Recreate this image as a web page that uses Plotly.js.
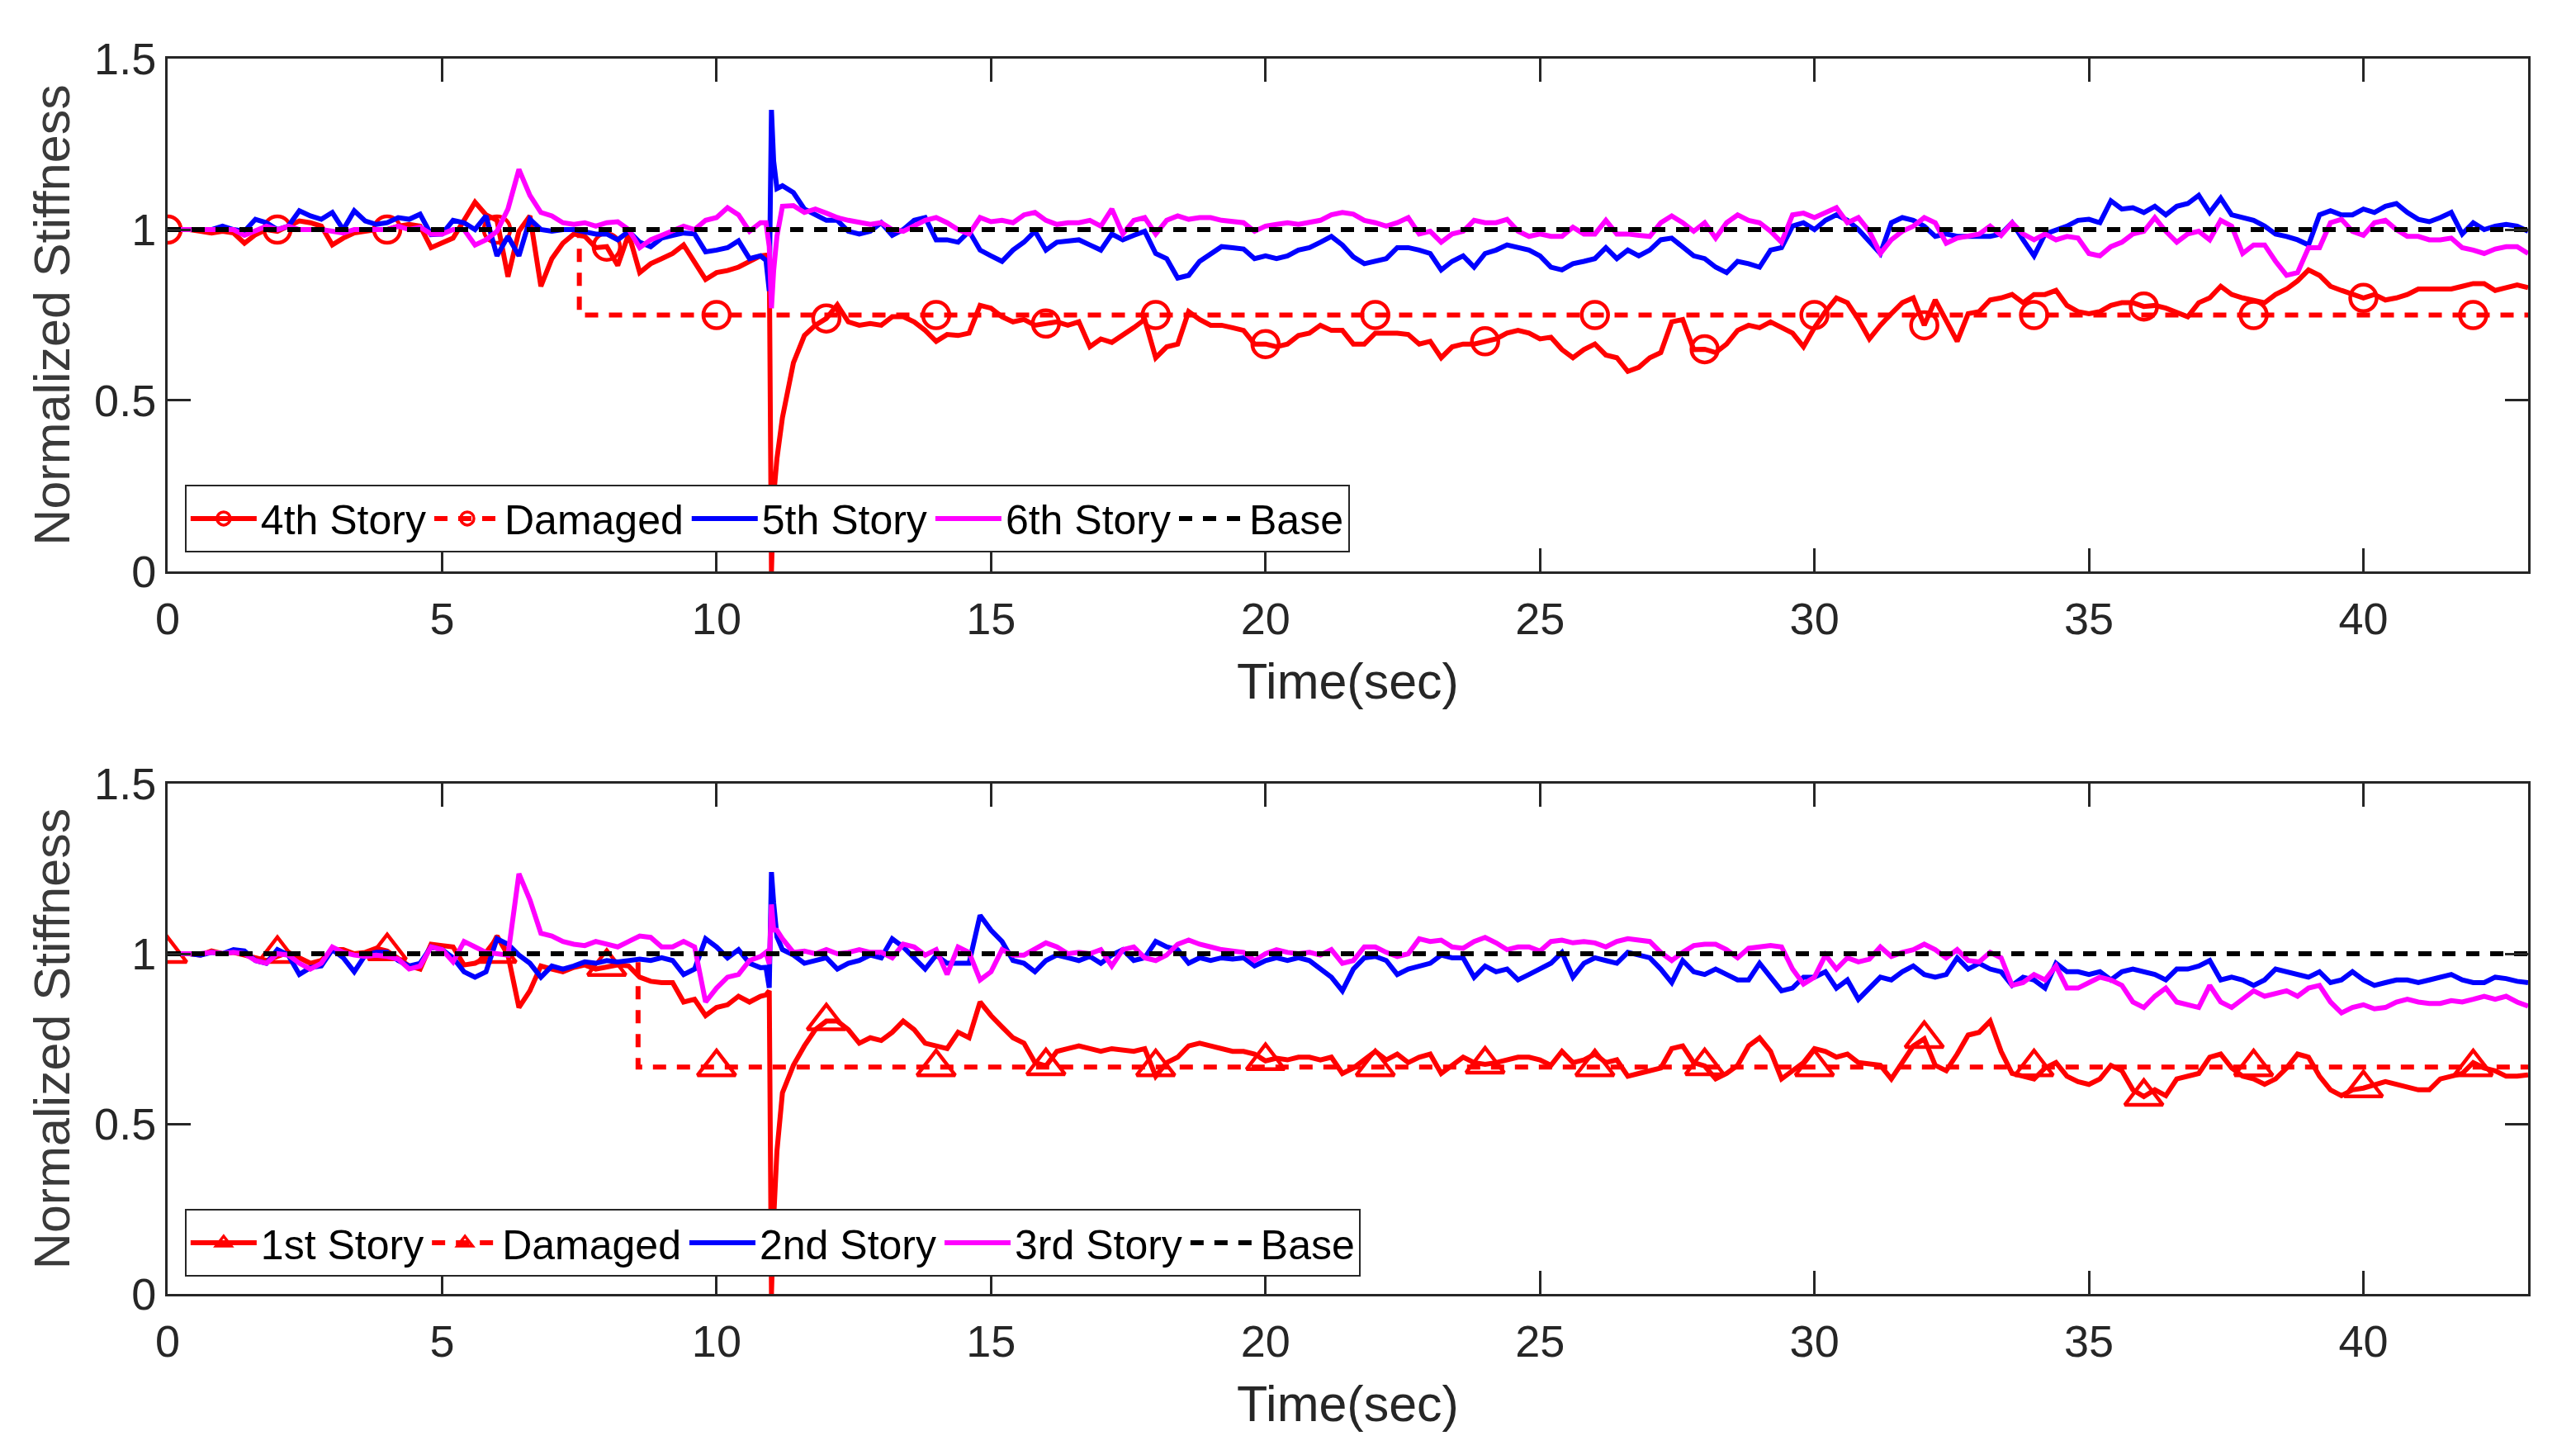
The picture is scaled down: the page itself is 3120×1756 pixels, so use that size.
<!DOCTYPE html>
<html>
<head>
<meta charset="utf-8">
<script src="https://cdn.plot.ly/plotly-3.0.1.min.js"></script>
<style>html,body{margin:0;padding:0;background:#fff}</style>
</head>
<body>
<div id="chart" style="width:3120px;height:1756px"></div>
<script>
// sampling grid: every 0.2 s, plus a few extra samples around the 11 s spike
function grid(a, b) {
  var out = [];
  for (var i = Math.round(a * 5); i <= Math.round(b * 5); i++) out.push(i / 5);
  return out;
}
var spikeTimes = [10.9, 10.96, 11.0, 11.04, 11.1];
var time = grid(0, 10.8).concat(spikeTimes, grid(11.2, 43));

// ---- upper panel ----
var story4 = [
  1.0,1.0,1.0,0.995,0.99, 0.995,0.99,0.96,0.985,1.0, 0.995,1.01,1.025,1.02,1.01,
  0.955,0.975,0.99,0.995,1.0, 1.0,1.01,1.015,1.01,0.947, 0.963,0.975,1.027,1.08,1.043,
  1.027,0.862,0.995,1.04,0.834, 0.915,0.96,0.987,0.98,0.947, 0.95,0.895,0.987,0.874,0.9,
  0.915,0.93,0.955,0.907,0.854, 0.874,0.88,0.89,0.907,0.923,
  0.925,0.92,0.0,0.22,0.33,
  0.45,0.61,0.69,0.72,
  0.74,0.78,0.73,0.72,0.725, 0.72,0.745,0.745,0.73,0.705, 0.673,0.693,0.69,0.697,0.778,
  0.77,0.745,0.73,0.737,0.72, 0.725,0.73,0.72,0.73,0.657, 0.68,0.67,0.69,0.713,0.737,
  0.625,0.657,0.665,0.76,0.737, 0.72,0.72,0.713,0.705,0.665, 0.665,0.657,0.665,0.69,0.697,
  0.72,0.705,0.705,0.665,0.665, 0.697,0.697,0.697,0.693,0.665, 0.673,0.625,0.657,0.665,0.665,
  0.673,0.68,0.697,0.705,0.697, 0.68,0.685,0.649,0.625,0.649, 0.665,0.633,0.625,0.585,0.597,
  0.625,0.64,0.73,0.737,0.649, 0.65,0.64,0.665,0.705,0.72, 0.713,0.73,0.713,0.697,0.657,
  0.713,0.76,0.8,0.786,0.737, 0.68,0.72,0.754,0.786,0.8, 0.72,0.794,0.737,0.673,0.754,
  0.76,0.794,0.8,0.81,0.786, 0.81,0.81,0.822,0.778,0.76, 0.754,0.76,0.778,0.786,0.786,
  0.775,0.778,0.77,0.758,0.745, 0.786,0.8,0.834,0.81,0.8, 0.794,0.786,0.81,0.826,0.85,
  0.882,0.866,0.834,0.822,0.81, 0.8,0.81,0.794,0.8,0.81, 0.826,0.826,0.826,0.826,0.834,
  0.842,0.842,0.822,0.83,0.838, 0.83
];
var story5 = [
  1.0,1.0,1.0,1.0,1.0, 1.01,1.0,0.995,1.03,1.02, 1.0,1.01,1.055,1.04,1.03,
  1.05,1.0,1.055,1.025,1.015, 1.02,1.035,1.03,1.045,0.985, 0.987,1.027,1.02,1.0,1.04,
  0.923,0.98,0.923,1.03,1.0, 0.995,1.0,1.0,0.995,0.987, 0.987,0.97,0.995,0.963,0.95,
  0.975,0.983,0.99,0.987,0.935, 0.94,0.947,0.967,0.915,0.923,
  0.91,0.82,1.35,1.2,1.12,
  1.128,1.108,1.06,1.043,
  1.027,1.027,0.995,0.987,0.995, 1.02,0.983,1.0,1.027,1.035, 0.97,0.97,0.963,0.995,0.94,
  0.923,0.907,0.94,0.963,0.995, 0.94,0.963,0.967,0.97,0.955, 0.94,0.987,0.97,0.983,0.995,
  0.93,0.915,0.858,0.866,0.907, 0.93,0.95,0.947,0.943,0.915, 0.923,0.915,0.923,0.94,0.947,
  0.963,0.98,0.955,0.92,0.9, 0.907,0.915,0.947,0.947,0.94, 0.93,0.882,0.907,0.923,0.89,
  0.93,0.94,0.955,0.947,0.94, 0.923,0.89,0.882,0.9,0.907, 0.915,0.947,0.915,0.94,0.923,
  0.94,0.97,0.975,0.947,0.923, 0.915,0.89,0.874,0.907,0.9, 0.89,0.94,0.947,1.01,1.02,
  1.0,1.027,1.043,1.027,1.0, 0.963,0.93,1.02,1.035,1.027, 1.01,0.98,0.987,0.98,0.98,
  0.983,0.98,0.987,1.02,0.97, 0.923,0.987,1.0,1.01,1.027, 1.03,1.02,1.084,1.06,1.064,
  1.05,1.068,1.043,1.068,1.076, 1.1,1.05,1.092,1.043,1.035, 1.027,1.01,0.987,0.98,0.97,
  0.955,1.043,1.055,1.043,1.043, 1.06,1.05,1.068,1.076,1.05, 1.03,1.023,1.035,1.05,0.987,
  1.02,1.0,1.01,1.015,1.01, 0.995
];
var story6 = [
  1.0,1.0,1.0,1.0,1.0, 1.0,1.0,0.983,0.995,1.01, 1.0,1.01,1.0,1.0,1.0,
  0.995,0.99,1.0,1.0,1.0, 1.0,1.01,1.0,1.007,0.987, 0.987,1.0,1.0,0.955,0.97,
  0.995,1.06,1.176,1.1,1.05, 1.04,1.02,1.015,1.02,1.01, 1.02,1.023,1.0,0.947,0.97,
  0.983,0.995,1.01,1.0,1.027, 1.035,1.064,1.043,0.995,1.02,
  1.02,0.95,0.77,0.88,0.98,
  1.068,1.07,1.05,1.06,
  1.048,1.035,1.027,1.02,1.015, 1.02,1.0,0.995,1.01,1.027, 1.035,1.02,1.0,0.987,1.035,
  1.023,1.027,1.02,1.043,1.05, 1.027,1.015,1.02,1.02,1.027, 1.01,1.06,0.987,1.027,1.035,
  0.987,1.027,1.04,1.03,1.035, 1.035,1.027,1.023,1.02,0.995, 1.01,1.015,1.02,1.015,1.02,
  1.027,1.043,1.05,1.045,1.027, 1.02,1.01,1.02,1.035,0.987, 0.995,0.963,0.987,0.995,1.027,
  1.02,1.02,1.03,0.995,0.98, 0.987,0.98,0.98,1.007,0.987, 0.987,1.027,0.987,0.987,0.983,
  0.98,1.02,1.04,1.02,0.995, 1.02,0.975,1.02,1.043,1.027, 1.02,0.995,0.963,1.043,1.048,
  1.035,1.05,1.064,1.02,1.035, 0.995,0.93,0.97,0.995,1.01, 1.035,1.02,0.96,0.975,0.98,
  0.987,1.01,0.983,1.02,0.987, 0.97,0.987,0.97,0.98,0.975, 0.93,0.923,0.95,0.963,0.987,
  0.995,1.035,0.995,0.963,0.987, 0.995,0.97,1.027,1.01,0.93, 0.955,0.955,0.907,0.866,0.874,
  0.947,0.947,1.02,1.03,0.995, 0.983,1.02,1.027,1.0,0.98, 0.98,0.97,0.97,0.975,0.947,
  0.94,0.93,0.943,0.95,0.95, 0.93
];
var damagedTopT = [0, 7.5, 7.5, 43];
var damagedTopK = [1, 1, 0.75, 0.75];

// ---- lower panel ----
var story1 = [
  1.0,1.0,1.0,0.996,1.008, 1.0,1.004,0.996,0.988,0.98, 0.992,1.004,0.988,0.972,0.98,
  1.012,1.012,1.0,1.004,1.016, 1.008,0.988,0.964,0.955,1.028, 1.024,1.02,0.967,0.972,0.988,
  1.052,0.996,0.842,0.891,0.964, 0.955,0.947,0.96,0.967,0.955, 0.962,0.967,0.964,0.931,0.919,
  0.915,0.915,0.858,0.866,0.818, 0.842,0.85,0.875,0.858,0.875,
  0.879,0.891,0.0,0.22,0.42,
  0.591,0.672,0.729,0.777,
  0.802,0.802,0.777,0.737,0.753, 0.745,0.769,0.802,0.777,0.737, 0.729,0.721,0.769,0.753,0.858,
  0.818,0.785,0.753,0.737,0.68, 0.67,0.713,0.721,0.729,0.721, 0.713,0.721,0.717,0.713,0.721,
  0.64,0.68,0.696,0.729,0.737, 0.729,0.721,0.713,0.713,0.705, 0.685,0.693,0.688,0.696,0.696,
  0.688,0.696,0.648,0.664,0.688, 0.713,0.688,0.705,0.68,0.696, 0.705,0.648,0.672,0.696,0.68,
  0.675,0.68,0.688,0.696,0.696, 0.688,0.672,0.713,0.68,0.688, 0.705,0.68,0.688,0.64,0.648,
  0.656,0.664,0.721,0.729,0.68, 0.67,0.632,0.648,0.672,0.729, 0.753,0.713,0.632,0.656,0.68,
  0.721,0.713,0.696,0.705,0.68, 0.676,0.672,0.632,0.68,0.729, 0.75,0.672,0.656,0.705,0.761,
  0.769,0.802,0.713,0.648,0.64, 0.632,0.664,0.68,0.64,0.624, 0.616,0.632,0.672,0.656,0.6,
  0.58,0.6,0.583,0.632,0.64, 0.648,0.696,0.705,0.664,0.64, 0.632,0.616,0.632,0.664,0.705,
  0.696,0.64,0.6,0.583,0.6, 0.605,0.616,0.624,0.616,0.608, 0.6,0.6,0.632,0.64,0.648,
  0.68,0.664,0.656,0.64,0.64, 0.644
];
var story2 = [
  1.0,1.0,1.0,0.996,1.004, 1.0,1.012,1.008,0.98,0.972, 1.012,0.996,0.939,0.959,0.964,
  1.012,0.988,0.947,0.996,1.004, 1.004,0.98,0.964,0.972,1.02, 1.012,0.988,0.947,0.931,0.947,
  1.044,1.028,0.996,0.972,0.931, 0.964,0.955,0.964,0.976,0.972, 0.98,0.976,0.98,0.984,0.98,
  0.988,0.98,0.939,0.955,1.044, 1.02,0.988,1.012,0.972,0.959,
  0.96,0.9,1.24,1.15,1.05,
  1.012,0.996,0.972,0.98,
  0.988,0.955,0.972,0.98,0.996, 0.988,1.044,1.02,0.988,0.955, 0.996,0.972,0.972,0.972,1.113,
  1.069,1.036,0.98,0.972,0.947, 0.98,0.996,0.988,0.98,0.992, 0.972,0.996,1.012,0.98,0.988,
  1.036,1.02,1.012,0.972,0.988, 0.98,0.988,0.984,0.988,0.964, 0.98,0.988,0.98,0.988,0.98,
  0.955,0.931,0.891,0.955,0.988, 0.992,0.98,0.939,0.955,0.964, 0.972,0.996,0.988,0.988,0.931,
  0.964,0.947,0.955,0.923,0.939, 0.955,0.972,1.004,0.931,0.972, 0.988,0.98,0.972,1.004,0.996,
  0.988,0.955,0.915,0.98,0.947, 0.939,0.955,0.939,0.923,0.923, 0.972,0.931,0.891,0.899,0.931,
  0.931,0.947,0.899,0.923,0.866, 0.899,0.931,0.923,0.947,0.964, 0.939,0.931,0.939,0.988,0.955,
  0.972,0.955,0.947,0.907,0.931, 0.923,0.899,0.972,0.947,0.947, 0.939,0.947,0.923,0.947,0.955,
  0.947,0.939,0.923,0.955,0.955, 0.964,0.98,0.923,0.931,0.923, 0.907,0.923,0.955,0.947,0.939,
  0.931,0.947,0.915,0.923,0.947, 0.923,0.907,0.915,0.923,0.923, 0.915,0.923,0.931,0.939,0.923,
  0.915,0.915,0.931,0.927,0.919, 0.915
];
var story3 = [
  1.0,1.0,1.0,1.0,1.004, 1.0,1.004,1.0,0.98,0.972, 1.0,0.996,0.972,0.955,0.972,
  1.02,1.004,0.996,0.992,0.996, 0.992,0.984,0.955,0.964,1.02, 1.012,0.976,1.036,1.02,1.004,
  1.0,0.996,1.235,1.158,1.06, 1.052,1.036,1.028,1.024,1.036, 1.028,1.02,1.036,1.052,1.048,
  1.02,1.02,1.036,1.02,0.858, 0.899,0.931,0.939,0.98,0.992,
  1.004,0.97,1.145,1.07,1.069,
  1.044,1.004,1.008,1.0,
  1.012,1.0,1.004,1.012,1.004, 1.004,0.988,1.028,1.02,0.996, 1.012,0.939,1.02,1.004,0.923,
  0.947,1.012,0.996,0.996,1.012, 1.032,1.02,1.0,1.004,1.0, 1.012,0.964,1.012,1.02,0.988,
  0.98,0.996,1.028,1.04,1.028, 1.02,1.012,1.008,1.004,0.98, 1.0,1.012,1.004,1.0,1.004,
  0.996,1.012,0.972,0.98,1.02, 1.02,1.004,0.992,1.0,1.044, 1.036,1.04,1.02,1.016,1.036,
  1.048,1.032,1.012,1.02,1.02, 1.008,1.036,1.04,1.032,1.036, 1.032,1.02,1.036,1.044,1.04,
  1.036,1.004,0.98,1.004,1.024, 1.028,1.028,1.012,0.988,1.016, 1.02,1.024,1.02,0.955,0.911,
  0.931,0.996,0.955,0.988,0.976, 0.984,1.02,0.992,1.004,1.012, 1.028,1.012,0.988,1.012,0.98,
  0.976,1.004,0.988,0.907,0.915, 0.939,0.923,0.964,0.899,0.899, 0.915,0.931,0.923,0.907,0.858,
  0.842,0.875,0.899,0.858,0.85, 0.842,0.907,0.858,0.842,0.866, 0.891,0.875,0.883,0.891,0.875,
  0.899,0.907,0.858,0.826,0.842, 0.85,0.838,0.842,0.858,0.866, 0.858,0.854,0.854,0.862,0.858,
  0.866,0.875,0.866,0.875,0.858, 0.846
];
var damagedLowT = [0, 8.57, 8.57, 43];
var damagedLowK = [1, 1, 0.667, 0.667];

var baseT = [0, 43];
var baseK = [1, 1];
var storyMarkTimes = [0, 4, 8, 12, 16, 20, 24, 28, 32, 36, 40];
var damagedMarkTimes = [2, 6, 10, 14, 18, 22, 26, 30, 34, 38, 42];

var topNames = ['4th Story', 'Damaged', '5th Story', '6th Story', 'Base'];
var lowNames = ['1st Story', 'Damaged', '2nd Story', '3rd Story', 'Base'];

function valueAt(series, t) {
  for (var i = 0; i < time.length; i++) if (Math.abs(time[i] - t) < 1e-6) return series[i];
  return null;
}
function stepAt(tt, kk, t) {
  for (var i = tt.length - 1; i >= 0; i--) if (tt[i] <= t) return kk[i];
  return kk[0];
}

var RED = '#ff0000', BLUE = '#0000ff', MAG = '#ff00ff';
var LW = 6;
var DASH = '16px,13px';

function panel(xa, ya, leg, names, red, dT, dK, blue, mag, symbol, msize) {
  var mk = {symbol: symbol, size: msize, color: RED, line: {color: RED, width: 4.5}};
  var legMk = {symbol: symbol, size: 16, color: RED, line: {color: RED, width: 3.5}};
  var common = {xaxis: xa, yaxis: ya, legend: leg, hoverinfo: 'skip'};
  var tr = [];
  tr.push(Object.assign({x: time, y: red, mode: 'lines', line: {color: RED, width: LW}, showlegend: false}, common));
  tr.push(Object.assign({x: storyMarkTimes, y: storyMarkTimes.map(function (t) { return valueAt(red, t); }),
    mode: 'markers', marker: mk, showlegend: false}, common));
  tr.push(Object.assign({x: [null], y: [null], mode: 'lines+markers', name: names[0], legendrank: 1,
    line: {color: RED, width: LW}, marker: legMk}, common));
  tr.push(Object.assign({x: dT, y: dK, mode: 'lines', line: {color: RED, width: LW, dash: DASH}, showlegend: false}, common));
  tr.push(Object.assign({x: damagedMarkTimes, y: damagedMarkTimes.map(function (t) { return stepAt(dT, dK, t); }),
    mode: 'markers', marker: mk, showlegend: false}, common));
  tr.push(Object.assign({x: [null], y: [null], mode: 'lines+markers', name: names[1], legendrank: 2,
    line: {color: RED, width: LW, dash: DASH}, marker: legMk}, common));
  tr.push(Object.assign({x: time, y: blue, mode: 'lines', name: names[2], legendrank: 3,
    line: {color: BLUE, width: LW}}, common));
  tr.push(Object.assign({x: time, y: mag, mode: 'lines', name: names[3], legendrank: 4,
    line: {color: MAG, width: LW}}, common));
  tr.push(Object.assign({x: baseT, y: baseK, mode: 'lines', name: names[4], legendrank: 5,
    line: {color: '#000', width: 6, dash: DASH}}, common));
  return tr;
}

var data = panel('x', 'y', 'legend', topNames, story4, damagedTopT, damagedTopK, story5, story6, 'circle-open', 32)
  .concat(panel('x2', 'y2', 'legend2', lowNames, story1, damagedLowT, damagedLowK, story2, story3, 'triangle-up-open', 40));

var FONT = 'Liberation Sans, Arial, Helvetica, sans-serif';
var INK = '#262626';

function xAxis(anchor) {
  return {
    anchor: anchor, range: [0, 43], tickvals: [0, 5, 10, 15, 20, 25, 30, 35, 40],
    ticks: 'inside', ticklen: 28, tickwidth: 3, tickcolor: INK, ticklabelstandoff: 8,
    showline: true, linewidth: 3, linecolor: INK, mirror: 'ticks',
    showgrid: false, zeroline: false,
    tickfont: {family: FONT, size: 54, color: INK},
    title: {text: 'Time(sec)', font: {family: FONT, size: 61, color: INK}, standoff: 26}
  };
}
function yAxis(anchor, domain) {
  return {
    anchor: anchor, domain: domain, range: [0, 1.5], tickvals: [0, 0.5, 1, 1.5],
    ticks: 'inside', ticklen: 28, tickwidth: 3, tickcolor: INK,
    showline: true, linewidth: 3, linecolor: INK, mirror: 'ticks',
    showgrid: false, zeroline: false,
    tickfont: {family: FONT, size: 54, color: INK},
    title: {text: 'Normalized Stiffness', font: {family: FONT, size: 61, color: '#3a3a3a'}, standoff: 10}
  };
}
function legendBox(y) {
  return {
    x: 0.0073, y: y, xanchor: 'left', yanchor: 'bottom', orientation: 'h',
    bgcolor: '#fff', bordercolor: INK, borderwidth: 2, itemwidth: 80,
    font: {family: FONT, size: 50, color: '#000'}, traceorder: 'normal'
  };
}

var layout = {
  width: 3120, height: 1756,
  margin: {l: 203, r: 58, t: 71, b: 189},
  paper_bgcolor: '#fff', plot_bgcolor: '#fff',
  showlegend: true,
  xaxis: xAxis('y'),
  yaxis: yAxis('x', [0.5849, 1]),
  xaxis2: xAxis('y2'),
  yaxis2: yAxis('x2', [0, 0.4131]),
  legend: legendBox(0.6003),
  legend2: legendBox(0.014)
};

Plotly.newPlot('chart', data, layout, {staticPlot: true});
</script>
</body>
</html>
